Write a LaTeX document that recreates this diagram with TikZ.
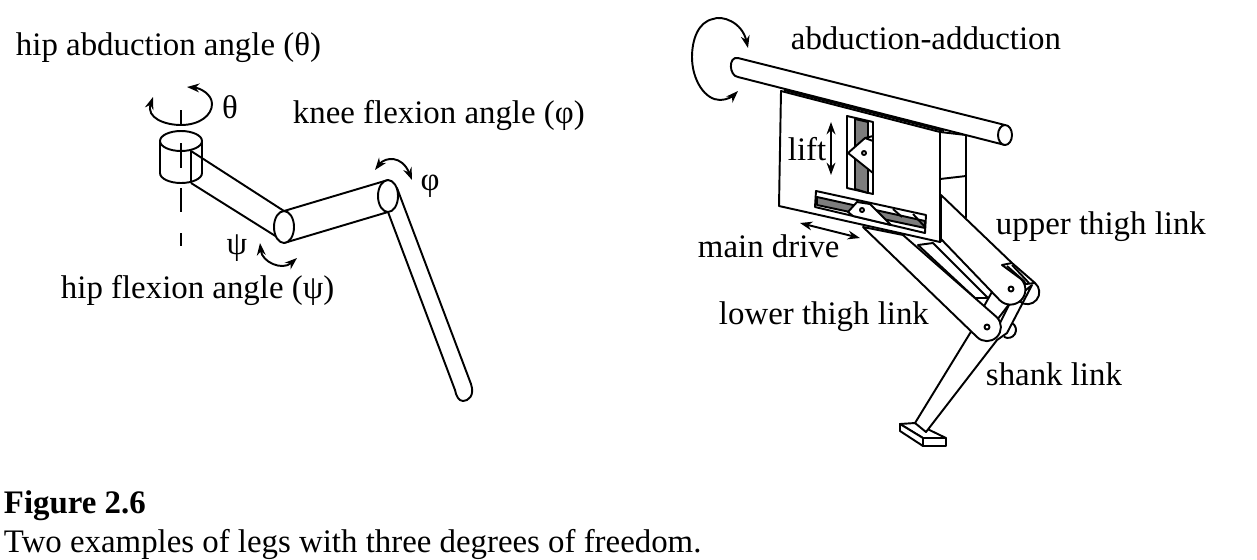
\documentclass[tikz,border=0pt]{standalone}
\usepackage{fontspec}
\setmainfont{Liberation Serif}
\usetikzlibrary{arrows.meta}
\definecolor{slot_gray}{RGB}{125,125,125}

\begin{document}
\begin{tikzpicture}[x=0.02cm,y=-0.02cm,line width=1.1pt,line join=round,>={Stealth[length=7pt,width=5pt]}]
    \tikzstyle{lbl}=[anchor=base west, inner sep=0pt, font=\fontsize{18.7}{20}\selectfont, text=black]
    \tikzstyle{sym}=[inner sep=0pt, font=\fontsize{18.7}{20}\selectfont, text=black]
    \tikzstyle{part}=[draw=black, fill=white]
    \tikzstyle{turn}=[<->, line width=1.1pt]
    \useasboundingbox (0,0) rectangle (1257,559);

    % left leg
    \draw (181,110) -- (181,126);
    \draw[turn] (153,97) .. controls (146,118) and (165,125) .. (181,125) .. controls (200,125) and (212,115) .. (212,104) .. controls (212,94) and (200,88) .. (187,87);
    \draw[part] (160,141) -- (160,173) arc[start angle=180, end angle=0, x radius=21, y radius=10] -- (202,141);
    \draw[part] (181,141) ellipse[x radius=21, y radius=10];
    \draw (181,143) -- (181,168);
    \draw (181,188) -- (181,212);
    \draw (181,233) -- (181,246);
    \draw (191,151) -- (191,183);
    \draw (191,151) -- (284,211);
    \draw (191,183) -- (277,237);
    \draw[part] (397,188) -- (471,384) .. controls (475,396) and (468,401) .. (463,401) .. controls (459,401) and (456,396) .. (455,390) -- (388,212) -- cycle;
    \draw[part] (284,211) -- (388,180) -- (388,212) -- (284,243) -- cycle;
    \draw[part] (284,227) ellipse[x radius=10, y radius=16];
    \draw[part] (388,196) ellipse[x radius=10, y radius=16];
    \draw[turn] (375,170) .. controls (385,157) and (402,155) .. (412,180);
    \draw[turn] (260,243) .. controls (262,262) and (282,271) .. (297,258);

    \node[lbl] (hipab)   at (15,55)   {hip abduction angle (θ)};
    \node[sym] (theta)   at (230,107) {θ};
    \node[lbl] (kneefl)  at (292,123) {knee flexion angle (φ)};
    \node[sym] (phi)     at (430,186) {φ};
    \node[sym] (psi)     at (237,248) {ψ};
    \node[lbl] (hipfl)   at (60,298)  {hip flexion angle (ψ)};

    % right leg, rear parts first
    \draw[part] (940,132) -- (966,135) -- (966,217) -- (940,242) -- cycle;
    \draw (940,179) -- (966,176);
    \draw[part] (900,424) -- (915,423) -- (946,438) -- (923,438) -- cycle;
    \draw[part] (900,424) -- (900,431) -- (923,446) -- (923,438) -- cycle;
    \draw[part] (923,438) -- (946,438) -- (946,446) -- (923,446) -- cycle;
    \draw (1012,323) arc[start angle=-60, end angle=120, radius=8];
    \draw[part] (972,330) -- (915,423) -- (926,432) -- (997,340) -- (1007,333) -- (1032,285) -- (1010,303) -- (1000,323) -- cycle;
    \draw (1035,283) arc[start angle=-50, end angle=130, radius=12];
    \draw[part] (918,245) -- (975,298) -- (988,298) -- (933,243) -- cycle;
    \draw[part] (993,290) -- (983,308) -- (997,320) -- (1010,303) -- cycle;
    \draw[part] (863,227) -- (977,337) arc[start angle=135, end angle=-45, radius=14] -- (903,235) -- cycle;
    \draw[part] (941,195) -- (1012,263) -- (1035,283) -- (1026,284) -- (1021,279) arc[start angle=-45, end angle=135, radius=15] -- (941,239) -- cycle;
    \draw (1012,263) -- (1002,265) -- (1021,279);
    \draw (1007,266) -- (1025,282);
    \draw (1012,265) -- (1029,283);
    \draw (1011,289) circle[radius=2.5];
    \draw (987,327) circle[radius=2.5];

    % plate and rod
    \draw[part] (781,91) -- (940,132) -- (940,242) -- (779,206) -- cycle;
    \draw (784,90) -- (944,131);
    \draw[part] (1005,125) -- (738,58) .. controls (728,56) and (729,76) .. (738,77) -- (1005,145);
    \draw[part] (1005,135) ellipse[x radius=7, y radius=10];

    % vertical slot
    \draw[part] (847,116) -- (873,122) -- (873,194) -- (847,188) -- cycle;
    \draw[fill=slot_gray] (855,119) -- (868,122) -- (868,193) -- (855,189) -- cycle;
    \draw (873,136) -- (865,138);
    \draw[part] (848,153) -- (865,138) -- (873,141) -- (873,173) -- cycle;
    \draw[part] (864,153) circle[radius=2];

    % horizontal slot
    \draw[part] (816,191) -- (926,215) -- (925,233) -- (815,207) -- cycle;
    \draw[fill=slot_gray] (817,197) -- (925,221) -- (925,228) -- (817,205) -- cycle;
    \draw (893,209) -- (902,217);
    \draw (913,214) -- (925,227);
    \draw[part] (848,212) -- (857,202) -- (870,204) -- (891,225) -- (853,216) -- cycle;
    \draw[part] (862,210) circle[radius=2];

    \draw[turn] (831,122) -- (831,175);
    \draw[turn] (800,223) -- (860,238);
    \draw[turn] (748,48) .. controls (742,22) and (722,15) .. (713,19) .. controls (698,22) and (692,40) .. (692,57) .. controls (692,80) and (705,100) .. (720,100) .. controls (727,100) and (733,96) .. (738,91);

    \node[lbl] (abad)   at (790,49)   {abduction-adduction};
    \node[lbl] (lift)   at (787,160)  {lift};
    \node[lbl] (drive)  at (697,257)  {main drive};
    \node[lbl] (upper)  at (995,234)  {upper thigh link};
    \node[lbl] (lower)  at (718,324)  {lower thigh link};
    \node[lbl] (shank)  at (985,385)  {shank link};

    % caption
    \node[lbl, font=\fontsize{18.7}{20}\selectfont\bfseries] (fignum) at (3,513) {Figure 2.6};
    \node[lbl] (caption) at (3,552) {Two examples of legs with three degrees of freedom.};
  \end{tikzpicture}
\end{document}
